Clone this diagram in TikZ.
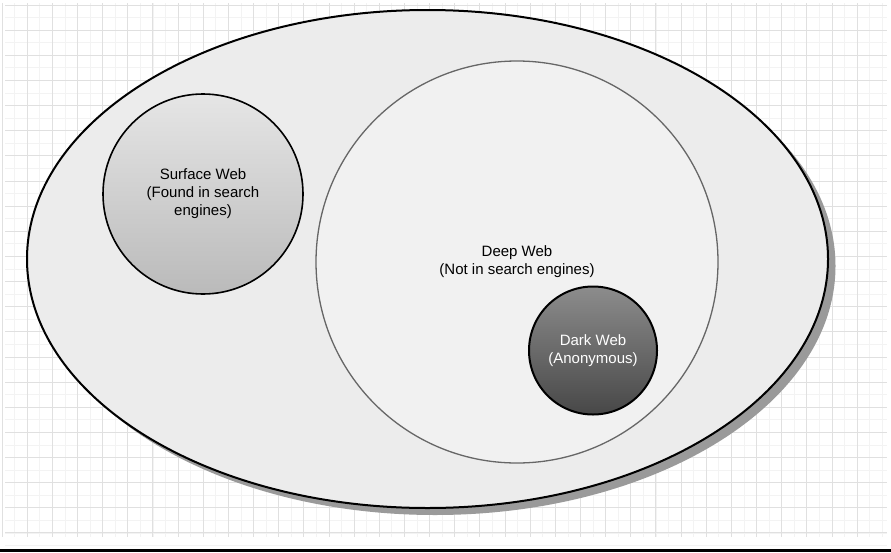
\documentclass[tikz,border=0pt]{standalone}
\usepackage{fontspec}
\setmainfont{Liberation Sans}
\usetikzlibrary{shapes.geometric}
\definecolor{gridminor}{HTML}{F3F3F3}
\definecolor{gridmajor}{HTML}{E0E0E0}
\definecolor{shadowgray}{HTML}{9A9A9A}
\definecolor{outerfill}{HTML}{ECECEC}
\definecolor{deepfill}{HTML}{F1F1F1}
\definecolor{deepline}{HTML}{666666}
\begin{document}
\begin{tikzpicture}[x=1pt,y=-1pt,
  lbl/.style={font=\fontsize{15}{18}\selectfont, align=center},
  outer/.style={ellipse, draw=black, line width=2pt, fill=outerfill, minimum width=801pt, minimum height=498pt, inner sep=0pt},
  surface/.style={circle, draw=black, line width=1.6pt, top color=black!10, bottom color=black!27, minimum size=200pt, inner sep=0pt, lbl},
  deep/.style={circle, draw=deepline, line width=1.3pt, fill=deepfill, minimum size=402pt, inner sep=0pt, lbl},
  dark/.style={circle, draw=black, line width=2pt, top color=black!45, bottom color=black!72, minimum size=128pt, inner sep=0pt, lbl, text=white}]
\useasboundingbox (0,0) rectangle (891,552);
\fill[white] (0,0) rectangle (891,552);
% grid
\foreach \i in {0,...,69} {
  \draw[gridminor, line width=0.8pt] ({14.6+12.575*\i},3) -- ({14.6+12.575*\i},537);
}
\foreach \j in {0,...,42} {
  \draw[gridminor, line width=0.8pt] (5,{17.6+12.57*\j}) -- (887,{17.6+12.57*\j});
}
\foreach \i in {0,...,34} {
  \draw[gridmajor, line width=0.9pt] ({2+25.15*\i},3) -- ({2+25.15*\i},537);
}
\foreach \j in {0,...,21} {
  \draw[gridmajor, line width=0.9pt] (5,{5+25.14*\j}) -- (887,{5+25.14*\j});
}
% shadow of the outer ellipse
\fill[shadowgray] (435,266) ellipse [x radius=400.5pt, y radius=249pt];
\node[outer] (net) at (427.5,259) {};
\node[surface] (surface) at (203,194) {Surface Web\\(Found in search\\engines)};
\node[deep] (deep) at (517,262) {Deep Web\\(Not in search engines)};
\node[dark] (dark) at (593,350.5) {Dark Web\\(Anonymous)};
% bottom rule
\draw[black, line width=3pt] (0,550.5) -- (891,550.5);
\end{tikzpicture}
\end{document}
